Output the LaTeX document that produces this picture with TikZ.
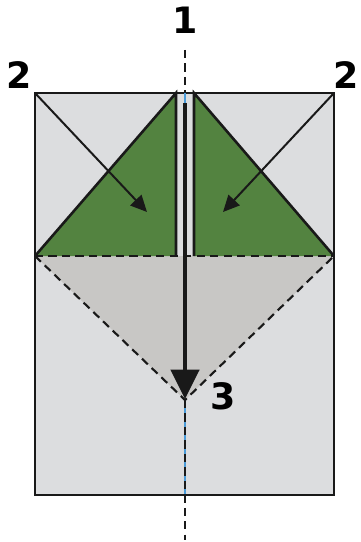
\documentclass[tikz,border=0pt]{standalone}
\usepackage{fontspec}
\setmainfont{DejaVu Sans}
\usetikzlibrary{arrows.meta}
\definecolor{paper}{HTML}{DCDDDF}
\definecolor{leaf}{HTML}{538340}
\definecolor{fold}{HTML}{C8C7C5}
\definecolor{crease}{HTML}{4A9BD8}

\begin{document}
\begin{tikzpicture}[x=0.03cm, y=-0.03cm,
    num/.style={font=\bfseries\fontsize{31}{31}\selectfont},
    edge/.style={line width=2.2pt, black!90},
    foldline/.style={line width=1.8pt, black!90, dash pattern=on 7pt off 4.5pt},
    flaparrow/.style={line width=1.7pt, black!90, -{Triangle[width=13pt,length=14pt]}}]
    \useasboundingbox (0,0) rectangle (360,542);

    % Corners of the sheet
    \coordinate (tl) at (35,93);
    \coordinate (tr) at (334,93);
    \coordinate (bl) at (35,495);
    \coordinate (br) at (334,495);
    \coordinate (ml) at (35,256);
    \coordinate (mr) at (334,256);
    \coordinate (apex) at (185,400);

    % Flap corners
    \coordinate (lt) at (176,93);
    \coordinate (lb) at (176,256);
    \coordinate (rt) at (194,93);
    \coordinate (rb) at (194,256);

    % Centre crease points
    \coordinate (ctop) at (185,50);
    \coordinate (cin) at (185,93);
    \coordinate (cbot) at (185,540);
    \coordinate (cedge) at (185,495);

    % Sheet
    \fill[paper] (tl) rectangle (br);

    % Folded-down triangle
    \fill[fold] (ml) -- (mr) -- (apex) -- cycle;

    % Green flaps
    \fill[leaf] (ml) -- (lt) -- (lb) -- cycle;
    \fill[leaf] (mr) -- (rt) -- (rb) -- cycle;
    \draw[edge] (ml) -- (lt) -- (lb);
    \draw[edge] (mr) -- (rt) -- (rb);

    % Sheet outline
    \draw[edge] (tl) rectangle (br);

    % Fold lines
    \draw[foldline] (ml) -- (mr);
    \draw[foldline] (ml) -- (apex) -- (mr);

    % Centre crease
    \draw[crease, line width=1.2pt] (cin) -- (185,103);
    \draw[crease, line width=1.2pt] (apex) -- (cedge);
    \draw[foldline] (ctop) -- (cin);
    \draw[foldline] (apex) -- (cbot);

    % Arrows
    \coordinate (ltip) at (147,212);
    \coordinate (rtip) at (223,212);
    \coordinate (dstart) at (185,103);
    \coordinate (dtip) at (185,399);
    \draw[flaparrow] (tl) -- (ltip);
    \draw[flaparrow] (tr) -- (rtip);
    \draw[line width=3.6pt, black!90, -{Triangle[width=24pt,length=25pt]}] (dstart) -- (dtip);

    % Step numbers
    \node[num] (one) at (185,20) {1};
    \node[num] (twoleft) at (19,75) {2};
    \node[num] (tworight) at (346,75) {2};
    \node[num] (three) at (223,396) {3};
\end{tikzpicture}
\end{document}
